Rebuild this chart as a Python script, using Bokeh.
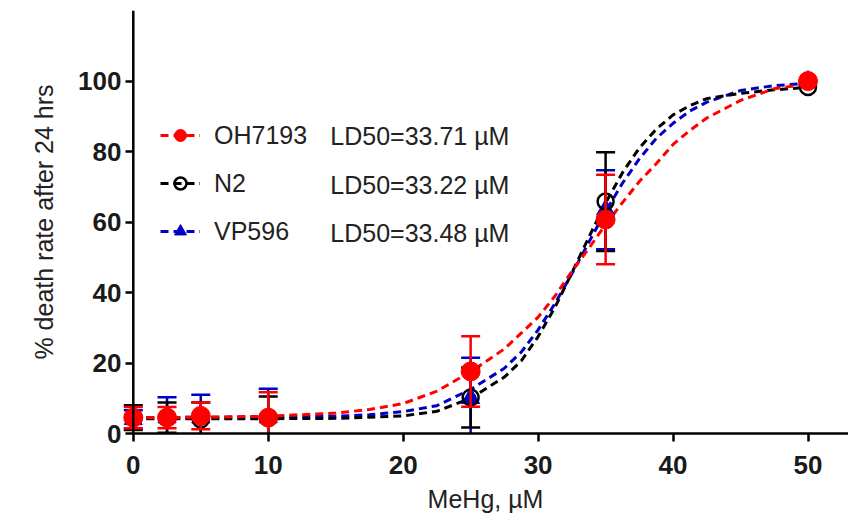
from bokeh.plotting import figure
from bokeh.models import Range1d, Legend, LegendItem, FixedTicker, Span
from bokeh.core.properties import value
from bokeh.embed import file_html
from bokeh.resources import INLINE

# ---- data ----
conc = [0, 2.5, 5, 10, 25, 35, 50]
strains = ["OH7193", "N2", "VP596"]
ld50 = [33.71, 33.22, 33.48]

oh_mean = [4.5, 4.5, 5.0, 4.5, 17.6, 60.7, 100.0]
oh_err = [3.0, 3.0, 3.8, 7.2, 10.0, 12.7, 0.0]
n2_mean = [4.5, 4.5, 4.0, 4.5, 10.2, 65.8, 98.3]
n2_err = [3.5, 4.3, 4.8, 6.0, 8.5, 14.0, 0.0]
vp_mean = [4.0, 4.5, 4.5, 4.5, 10.0, 63.5, 100.0]
vp_err = [2.6, 5.8, 6.5, 8.2, 11.5, 11.2, 0.0]

# fitted curves
fit_x = [0, 5, 10, 15, 17.5, 20, 22.5, 25, 27.5, 28.75, 30, 31.25, 32.5, 33.75,
         35, 36.25, 37.5, 38.75, 40, 41.25, 42.5, 45, 47.5, 50]
oh_fit = [4.5, 4.6, 4.9, 5.8, 6.8, 8.5, 12.0, 17.5, 24.0, 28.5, 33.0, 39.0, 46.0, 52.5,
          59.3, 65.5, 71.5, 76.5, 82.0, 86.0, 89.5, 94.5, 97.8, 99.2]
n2_fit = [4.2, 4.2, 4.2, 4.3, 4.6, 5.0, 6.3, 10.0, 16.0, 20.6, 27.5, 35.8, 45.6, 55.6,
          65.4, 74.0, 81.0, 86.3, 90.4, 93.0, 95.0, 96.5, 97.5, 98.2]
vp_fit = [4.5, 4.6, 4.7, 4.9, 5.3, 6.2, 7.9, 12.5, 18.5, 23.1, 29.4, 36.9, 45.3, 54.2,
          63.0, 71.0, 77.9, 83.7, 88.0, 91.5, 94.0, 97.3, 98.7, 99.3]

x_ticks = [0, 10, 20, 30, 40, 50]
y_ticks = [0, 20, 40, 60, 80, 100]
x_title = "MeHg, µM"
y_title = "% death rate after 24 hrs"

RED = "#ff0000"
BLACK = "#000000"
BLUE = "#0000c8"
FONT = "Liberation Sans"
TXT = "#222222"

p = figure(width=848, height=523, output_backend="svg", toolbar_location=None,
           x_range=Range1d(-0.8, 53.0), y_range=Range1d(0, 120),
           min_border_left=122, min_border_right=0, min_border_top=10,
           min_border_bottom=90)
p.grid.visible = False
p.outline_line_color = None
p.background_fill_color = "white"
p.border_fill_color = "white"

p.xaxis.bounds = (0, 53.0)
p.xaxis.ticker = FixedTicker(ticks=x_ticks, minor_ticks=[])
p.yaxis.ticker = FixedTicker(ticks=y_ticks, minor_ticks=[])
for ax in (p.xaxis[0], p.yaxis[0]):
    ax.axis_line_width = 2.5
    ax.axis_line_color = "black"
    ax.major_tick_line_width = 2.5
    ax.major_tick_line_color = "black"
    ax.minor_tick_out = 0
    ax.minor_tick_in = 0
    ax.major_label_text_font = FONT
    ax.major_label_text_font_size = "26px"
    ax.major_label_text_font_style = "bold"
    ax.major_label_text_color = "#1a1a1a"
    ax.axis_label_text_font = FONT
    ax.axis_label_text_font_size = "25px"
    ax.axis_label_text_font_style = "normal"
    ax.axis_label_text_color = TXT
p.xaxis.axis_label = x_title
p.yaxis.axis_label = y_title
p.xaxis.major_tick_out = 8
p.xaxis.major_tick_in = 0
p.xaxis.major_label_standoff = 14
p.xaxis.axis_label_standoff = 8
# y axis sits at x = 0 (slightly inside the frame so points at 0 are not cut)
p.yaxis.axis_line_color = None
p.yaxis.major_tick_out = -3
p.yaxis.major_tick_in = 11
p.yaxis.major_label_standoff = 1
p.yaxis.axis_label_standoff = 17
p.add_layout(Span(location=0, dimension="height", line_color="black", line_width=2.5))

series = [
    ("VP596", vp_mean, vp_err, vp_fit, BLUE),
    ("N2", n2_mean, n2_err, n2_fit, BLACK),
    ("OH7193", oh_mean, oh_err, oh_fit, RED),
]

lines = {}
for name, mean, err, fit, col in series:
    lines[name] = p.line(fit_x, fit, line_color=col, line_width=3, line_dash="8 5")

markers = {}
for name, mean, err, fit, col in series:
    xs = [c for c, e in zip(conc, err) if e > 0]
    hi = [m + e for m, e in zip(mean, err) if e > 0]
    lo = [m - e for m, e in zip(mean, err) if e > 0]
    p.segment(x0=xs, y0=lo, x1=xs, y1=hi, line_color=col, line_width=2.5)
    p.scatter(xs, hi, marker="dash", size=19, line_color=col, line_width=2.5)
    p.scatter(xs, lo, marker="dash", size=19, line_color=col, line_width=2.5)
    if name == "VP596":
        markers[name] = p.scatter(conc, mean, marker="triangle", size=18,
                                  fill_color=col, line_color=col)
    elif name == "N2":
        markers[name] = p.scatter(conc, mean, marker="circle", size=16,
                                  fill_color=None, line_color=col, line_width=2.5)
    else:
        markers[name] = p.scatter(conc, mean, marker="circle", size=19,
                                  fill_color=col, line_color=col)

items = [LegendItem(label=s, renderers=[lines[s], markers[s]]) for s in strains]
legend = Legend(items=items, location=(38, 187), orientation="vertical",
                border_line_color=None, background_fill_alpha=0,
                padding=0, margin=0, spacing=18, label_height=30, glyph_height=30,
                glyph_width=40, label_standoff=14,
                label_text_font=FONT, label_text_font_size="25px",
                label_text_color=TXT)
p.add_layout(legend)

ld_text = ["LD50=%.2f µM" % v for v in ld50]
p.text(x=[14.6, 14.6, 14.6], y=[84.5, 70.4, 57.0], text=ld_text,
       text_font=value(FONT), text_font_size="25px", text_baseline="middle",
       text_align="left", text_color=TXT)

html = file_html(p, INLINE)
with open("out.html", "w", encoding="utf-8") as f:
    f.write(html)
